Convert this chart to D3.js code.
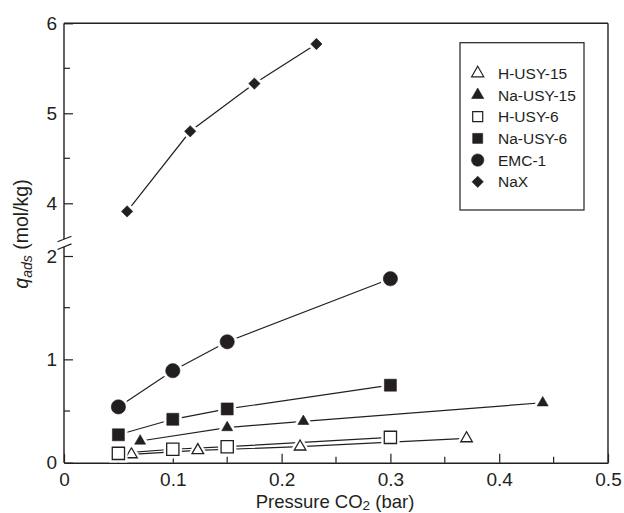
<!DOCTYPE html>
<html><head><meta charset="utf-8">
<script src="https://cdn.jsdelivr.net/npm/d3@7"></script>
<style>body{margin:0;background:#fff}svg{display:block}text{font-family:"Liberation Sans",Arial,sans-serif;fill:#231f20}</style>
</head><body><svg id="c" width="624" height="513"></svg>
<script>
const seriesNames = ["H-USY-15","Na-USY-15","H-USY-6","Na-USY-6","EMC-1","NaX"];
const hUSY15_x = [0.062,0.123,0.217,0.37];
const hUSY15_y = [0.08,0.12,0.155,0.235];
const naUSY15_x = [0.07,0.15,0.22,0.44];
const naUSY15_y = [0.21,0.34,0.40,0.58];
const hUSY6_x = [0.05,0.10,0.15,0.30];
const hUSY6_y = [0.09,0.13,0.155,0.245];
const naUSY6_x = [0.05,0.10,0.15,0.30];
const naUSY6_y = [0.27,0.42,0.52,0.75];
const emc1_x = [0.05,0.10,0.15,0.30];
const emc1_y = [0.54,0.89,1.17,1.78];
const naX_x = [0.058,0.116,0.175,0.232];
const naX_y = [3.91,4.80,5.33,5.77];
const xTicks = [0,0.1,0.2,0.3,0.4,0.5];
const yLowTicks = [0,1,2];
const yHighTicks = [4,5,6];

const svg = d3.select("#c");
const L=64,R=608,T=23.3,B=462.7;
const x = d3.scaleLinear().domain([0,0.5]).range([L,R]);
const yLow = d3.scaleLinear().domain([0,2]).range([B,256]);
const yHigh = d3.scaleLinear().domain([4,6]).range([203.3,T]);
const breakLow = 246.7, breakHigh = 239;
const yv = v => v > 3 ? yHigh(v) : yLow(v);
const ink = "#231f20";

// frame
svg.append("line").attr("x1",L).attr("x2",R).attr("y1",T).attr("y2",T).attr("stroke",ink).attr("stroke-width",1.4);
svg.append("line").attr("x1",R).attr("x2",R).attr("y1",T).attr("y2",B).attr("stroke",ink).attr("stroke-width",1.4);

// x axis
const xMinor = d3.range(0.05,0.5,0.1);
const xa = svg.append("g").attr("transform",`translate(0,${B})`)
  .call(d3.axisBottom(x).tickValues(xTicks).tickFormat(d=>d===0?"0":d3.format(".1f")(d)).tickSizeInner(-9).tickSizeOuter(0).tickPadding(9.5));
xa.select(".domain").attr("stroke",ink).attr("stroke-width",1.4);
xa.selectAll(".tick line").attr("stroke",ink).attr("stroke-width",1.2);
xa.selectAll("text").attr("font-size",19).attr("fill",ink);
svg.append("g").selectAll("line").data(xMinor).join("line")
  .attr("x1",d=>x(d)).attr("x2",d=>x(d)).attr("y1",B).attr("y2",B-6).attr("stroke",ink).attr("stroke-width",1.2);

// y axes (two segments)
const yl = svg.append("g").attr("transform",`translate(${L},0)`)
  .call(d3.axisLeft(yLow).tickValues(yLowTicks).tickFormat(d3.format("d")).tickSizeInner(-9).tickSizeOuter(0).tickPadding(7));
yl.select(".domain").remove();
const yh = svg.append("g").attr("transform",`translate(${L},0)`)
  .call(d3.axisLeft(yHigh).tickValues(yHighTicks).tickFormat(d3.format("d")).tickSizeInner(-9).tickSizeOuter(0).tickPadding(7));
yh.select(".domain").remove();
[yl,yh].forEach(g=>{g.selectAll(".tick line").attr("stroke",ink).attr("stroke-width",1.2);
  g.selectAll("text").attr("font-size",19).attr("fill",ink);});
svg.append("g").selectAll("line").data([0.5,1.5]).join("line")
  .attr("x1",L).attr("x2",L+6).attr("y1",d=>yLow(d)).attr("y2",d=>yLow(d)).attr("stroke",ink).attr("stroke-width",1.2);
svg.append("g").selectAll("line").data([4.5,5.5]).join("line")
  .attr("x1",L).attr("x2",L+6).attr("y1",d=>yHigh(d)).attr("y2",d=>yHigh(d)).attr("stroke",ink).attr("stroke-width",1.2);
svg.append("line").attr("x1",L).attr("x2",L).attr("y1",T).attr("y2",breakHigh).attr("stroke",ink).attr("stroke-width",1.4);
svg.append("line").attr("x1",L).attr("x2",L).attr("y1",breakLow).attr("y2",B).attr("stroke",ink).attr("stroke-width",1.4);
[breakHigh,breakLow].forEach(yy=>{
  svg.append("line").attr("x1",L-6.5).attr("x2",L+7.5).attr("y1",yy+2.8).attr("y2",yy-2.8).attr("stroke",ink).attr("stroke-width",1.2);
});

// titles
const xt = svg.append("text").attr("x",335).attr("y",507.5).attr("text-anchor","middle").attr("font-size",18.5);
xt.append("tspan").text("Pressure CO");
xt.append("tspan").attr("dy",2.5).attr("font-size",13.5).text("2");
xt.append("tspan").attr("dy",-2.5).text(" (bar)");
const yt = svg.append("text").attr("transform","translate(28,234) rotate(-90)").attr("text-anchor","middle").attr("font-size",19.5);
yt.append("tspan").attr("font-style","italic").text("q");
yt.append("tspan").attr("font-style","italic").attr("dy",4).attr("font-size",14).text("ads");
yt.append("tspan").attr("dy",-4).text(" (mol/kg)");

// series
const series = [
  {name:seriesNames[0], xs:hUSY15_x, ys:hUSY15_y, sym:d3.symbolTriangle, size:58, fill:false, rot:0},
  {name:seriesNames[1], xs:naUSY15_x, ys:naUSY15_y, sym:d3.symbolTriangle, size:52, fill:true, rot:0},
  {name:seriesNames[2], xs:hUSY6_x, ys:hUSY6_y, sym:d3.symbolSquare, size:150, fill:false, rot:0},
  {name:seriesNames[3], xs:naUSY6_x, ys:naUSY6_y, sym:d3.symbolSquare, size:144, fill:true, rot:0},
  {name:seriesNames[4], xs:emc1_x, ys:emc1_y, sym:d3.symbolCircle, size:160, fill:true, rot:0},
  {name:seriesNames[5], xs:naX_x, ys:naX_y, sym:d3.symbolSquare, size:64, fill:true, rot:45},
];
const line = d3.line().x(d=>x(d[0])).y(d=>yv(d[1]));
const gl = svg.append("g"), gm = svg.append("g");
series.forEach(s=>{
  const pts = s.xs.map((v,i)=>[v,s.ys[i]]);
  gl.append("path").datum(pts).attr("d",line).attr("fill","none").attr("stroke",ink).attr("stroke-width",1.2);
  const p = d3.symbol().type(s.sym).size(s.size)();
  gm.selectAll(null).data(pts).join("path").attr("d",p)
    .attr("transform",d=>`translate(${x(d[0])},${yv(d[1])}) rotate(${s.rot})`)
    .attr("fill","#fff").attr("stroke","#fff").attr("stroke-width",6);
  gm.selectAll(null).data(pts).join("path").attr("d",p)
    .attr("transform",d=>`translate(${x(d[0])},${yv(d[1])}) rotate(${s.rot})`)
    .attr("fill",s.fill?ink:"#fff").attr("stroke",ink).attr("stroke-width",s.fill?0.6:1.3);
});

// legend
const lg = svg.append("g");
lg.append("rect").attr("x",460).attr("y",42.7).attr("width",124).attr("height",167.3).attr("fill","#fff").attr("stroke",ink).attr("stroke-width",1.2);
const legendSizes = [64,64,100,100,120,64];
series.forEach((s,i)=>{
  const yy = 73.3 + i*21.7;
  lg.append("path").attr("d",d3.symbol().type(s.sym).size(legendSizes[i])())
    .attr("transform",`translate(477.7,${yy}) rotate(${s.rot})`)
    .attr("fill",s.fill?ink:"#fff").attr("stroke",ink).attr("stroke-width",s.fill?0.6:1.2);
  lg.append("text").attr("x",498).attr("y",yy+5.5).attr("font-size",15.5).text(s.name);
});
</script></body></html>
